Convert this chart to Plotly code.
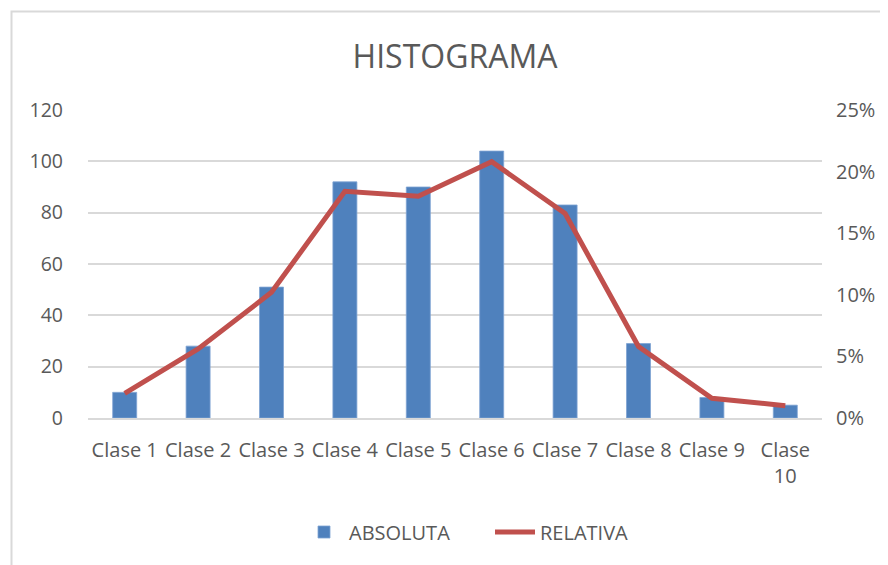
import plotly.graph_objects as go

categories = ["Clase 1", "Clase 2", "Clase 3", "Clase 4", "Clase 5",
              "Clase 6", "Clase 7", "Clase 8", "Clase 9", "Clase 10"]
tick_labels = ["Clase 1", "Clase 2", "Clase 3", "Clase 4", "Clase 5",
               "Clase 6", "Clase 7", "Clase 8", "Clase 9", "Clase<br>10"]
absoluta = [10, 28, 51, 92, 90, 104, 83, 29, 8, 5]
relativa = [0.02, 0.056, 0.102, 0.184, 0.18, 0.208, 0.166, 0.058, 0.016, 0.01]
y_ticks = [0, 20, 40, 60, 80, 100, 120]
y2_ticks = [0, 0.05, 0.10, 0.15, 0.20, 0.25]
y2_labels = ["0%", "5%", "10%", "15%", "20%", "25%"]

FONT = "Open Sans"
TXT = "#595959"
GRID = "#D9D9D9"

fig = go.Figure()
fig.add_trace(go.Bar(
    x=categories, y=absoluta, name="ABSOLUTA",
    marker=dict(color="#4F81BD", line=dict(color="#7FA3D3", width=0.8)),
    yaxis="y",
))
fig.add_trace(go.Scatter(
    x=categories, y=relativa, name="RELATIVA", mode="lines",
    line=dict(color="#C0504D", width=5),
    yaxis="y2",
))

# page has an 8px body margin, so the figure is 8px smaller and offset
OFF = 8
W, H = 888 - OFF, 565 - OFF
L, R, T, B = 88 - OFF, 66, 110 - OFF, 147
pw, ph = W - L - R, H - T - B

def px_x(p):
    return (p - OFF - L) / pw

def px_y(p):
    return (H - B - (p - OFF)) / ph

fig.update_layout(
    width=W, height=H,
    margin=dict(l=L, r=R, t=T, b=B),
    paper_bgcolor="white", plot_bgcolor="white",
    font=dict(family=FONT, color=TXT, size=20),
    title=dict(text="HISTOGRAMA", x=0.5, xref="paper", xanchor="center",
               y=1 - (57 - OFF) / H, yanchor="middle",
               font=dict(family=FONT, size=32, color=TXT)),
    bargap=0.673,
    showlegend=True,
    legend=dict(orientation="h", x=px_x(490), xanchor="center",
                y=px_y(532), yanchor="middle",
                font=dict(family=FONT, size=20, color=TXT),
                itemwidth=40, entrywidth=136, entrywidthmode="pixels",
                bgcolor="rgba(0,0,0,0)"),
    xaxis=dict(
        type="category", categoryorder="array", categoryarray=categories,
        tickmode="array", tickvals=categories, ticktext=tick_labels,
        showgrid=False, showline=True, linecolor=GRID, linewidth=1.5,
        ticks="", ticklabelstandoff=13, tickangle=0,
        tickfont=dict(family=FONT, size=20, color=TXT),
    ),
    yaxis=dict(
        range=[0, 120], tickmode="array", tickvals=y_ticks,
        showgrid=True, gridcolor=GRID, gridwidth=1.5,
        zeroline=False, showline=False, ticks="",
        ticklabelstandoff=24,
        tickfont=dict(family=FONT, size=19.5, color=TXT),
    ),
    yaxis2=dict(
        range=[0, 0.25], tickmode="array", tickvals=y2_ticks, ticktext=y2_labels,
        overlaying="y", side="right", showgrid=False, zeroline=False,
        showline=False, ticks="", ticklabelstandoff=13,
        tickfont=dict(family=FONT, size=20, color=TXT),
    ),
    shapes=[dict(type="rect", xref="paper", yref="paper",
                 x0=px_x(11.5), x1=px_x(900), y0=px_y(580), y1=px_y(11.5),
                 line=dict(color=GRID, width=2), fillcolor="rgba(0,0,0,0)",
                 layer="below")],
)

fig.write_html("out.html")
